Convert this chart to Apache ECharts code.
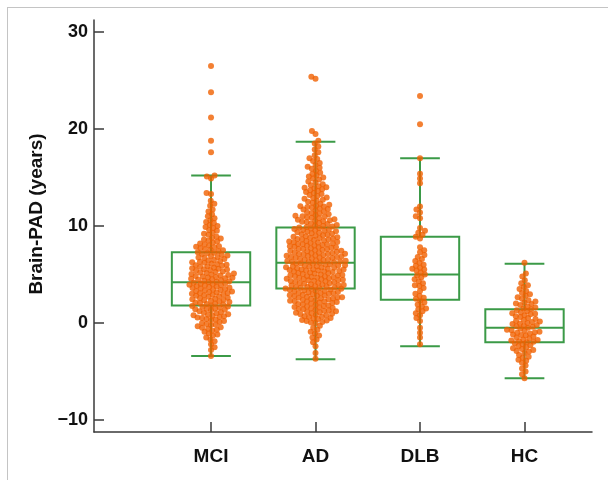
<!DOCTYPE html>
<html>
<head>
<meta charset="utf-8">
<script src="https://cdn.jsdelivr.net/npm/echarts@6/dist/echarts.min.js"></script>
<style>
  html, body { margin: 0; padding: 0; background: #fff; }
  #frame { position: absolute; left: 7px; top: 7px; width: 601px; height: 473px; border-top: 1px solid #c4c4c4; border-left: 1px solid #c4c4c4; }
  #main { position: absolute; left: 0; top: 0; width: 608px; height: 480px; }
</style>
</head>
<body>
<div id="frame"></div>
<div id="main"></div>
<script>
// groups and box statistics
const groups = ['MCI', 'AD', 'DLB', 'HC'];
const whiskerLow = [-3.4, -3.75, -2.4, -5.7];
const q1 = [1.8, 3.55, 2.4, -2.0];
const median = [4.2, 6.2, 5.0, -0.5];
const q3 = [7.3, 9.85, 8.9, 1.4];
const whiskerHigh = [15.2, 18.7, 17.0, 6.1];

const yTicks = [-10, 0, 10, 20, 30];

// individual subjects (Brain-PAD, years)
const mciValues = [26.5, 23.8, 21.2, 18.8, 17.6,
  15.2, 15.1, 14.9, 13.4, 13.3, 12.6, 12.3, 12.1, 11.7, 11.5, 11.2, 11.0,
  10.8, 10.6, 10.4, 10.3, 10.1, 10.0, 9.9, 9.8, 9.6, 9.5, 9.3, 9.2, 9.1,
  8.9, 8.8, 8.7, 8.5, 8.4, 8.3, 8.2, 8.1, 8.0, 8.6,
  7.9, 7.85, 7.8, 7.7, 7.6, 7.55, 7.5, 7.4, 7.3, 7.25, 7.2, 7.1, 7.0,
  6.95, 6.9, 6.8, 6.75, 6.7, 6.6, 6.5, 6.45, 6.4, 6.3, 6.25, 6.2, 6.1, 6.05, 6.0,
  5.95, 5.9, 5.85, 5.8, 5.7, 5.65, 5.6, 5.5, 5.45, 5.4, 5.3, 5.25, 5.2, 5.15, 5.1, 5.05, 5.0, 5.55,
  4.95, 4.9, 4.85, 4.8, 4.75, 4.7, 4.6, 4.55, 4.5, 4.45, 4.4, 4.35, 4.3, 4.25, 4.2, 4.15, 4.1, 4.05, 4.0, 4.65,
  3.95, 3.9, 3.85, 3.8, 3.75, 3.7, 3.6, 3.55, 3.5, 3.45, 3.4, 3.35, 3.3, 3.25, 3.2, 3.15, 3.1, 3.05, 3.0, 3.65,
  2.95, 2.9, 2.8, 2.75, 2.7, 2.6, 2.55, 2.5, 2.4, 2.35, 2.3, 2.2, 2.15, 2.1, 2.05, 2.0, 2.45, 2.85,
  1.95, 1.9, 1.8, 1.7, 1.65, 1.6, 1.5, 1.4, 1.35, 1.3, 1.2, 1.1, 1.05, 1.0, 1.45, 1.75,
  0.9, 0.8, 0.75, 0.7, 0.6, 0.5, 0.4, 0.35, 0.3, 0.2, 0.1, 0.0, 0.55, 0.85,
  -0.1, -0.2, -0.35, -0.5, -0.6, -0.7, -0.8, -0.9, -0.45, -0.15,
  -1.1, -1.3, -1.5, -1.7, -1.9, -1.2, -2.2, -2.5, -2.8, -3.4];

const adValues = [25.4, 25.2, 19.8, 19.5,
  18.8, 18.5, 18.2, 17.9, 17.6, 17.3, 17.0,
  16.9, 16.7, 16.5, 16.3, 16.1, 16.0,
  15.9, 15.7, 15.5, 15.4, 15.2, 15.1, 15.0,
  14.9, 14.8, 14.6, 14.5, 14.3, 14.2, 14.1, 14.0,
  13.95, 13.9, 13.8, 13.7, 13.6, 13.5, 13.4, 13.3, 13.2, 13.1,
  12.95, 12.9, 12.8, 12.7, 12.6, 12.5, 12.4, 12.3, 12.2, 12.1, 12.05, 12.0,
  11.95, 11.9, 11.8, 11.75, 11.7, 11.6, 11.5, 11.4, 11.35, 11.3, 11.2, 11.1, 11.05, 11.0,
  10.95, 10.9, 10.85, 10.8, 10.7, 10.65, 10.6, 10.5, 10.45, 10.4, 10.3, 10.25, 10.2, 10.1, 10.05, 10.0, 10.55,
  9.95, 9.9, 9.85, 9.8, 9.75, 9.7, 9.65, 9.6, 9.5, 9.45, 9.4, 9.35, 9.3, 9.25, 9.2, 9.15, 9.1, 9.05, 9.0, 9.55,
  8.95, 8.9, 8.85, 8.8, 8.75, 8.7, 8.65, 8.6, 8.55, 8.5, 8.45, 8.4, 8.35, 8.3, 8.25, 8.2, 8.15, 8.1, 8.05, 8.0, 8.62, 8.32, 8.12,
  7.95, 7.9, 7.85, 7.8, 7.75, 7.7, 7.65, 7.6, 7.55, 7.5, 7.45, 7.4, 7.35, 7.3, 7.25, 7.2, 7.15, 7.1, 7.05, 7.0, 7.62, 7.42, 7.22, 7.12, 7.82,
  6.95, 6.9, 6.85, 6.8, 6.75, 6.7, 6.65, 6.6, 6.55, 6.5, 6.45, 6.4, 6.35, 6.3, 6.25, 6.2, 6.15, 6.1, 6.05, 6.0, 6.92, 6.72, 6.52, 6.32, 6.12, 6.42, 6.82,
  5.95, 5.9, 5.85, 5.8, 5.75, 5.7, 5.65, 5.6, 5.55, 5.5, 5.45, 5.4, 5.35, 5.3, 5.25, 5.2, 5.15, 5.1, 5.05, 5.0, 5.92, 5.72, 5.52, 5.32, 5.12, 5.42, 5.82,
  4.95, 4.9, 4.85, 4.8, 4.75, 4.7, 4.65, 4.6, 4.55, 4.5, 4.45, 4.4, 4.35, 4.3, 4.25, 4.2, 4.15, 4.1, 4.05, 4.0, 4.92, 4.72, 4.52, 4.32, 4.12, 4.42, 4.82,
  3.95, 3.9, 3.85, 3.8, 3.75, 3.7, 3.65, 3.6, 3.55, 3.5, 3.45, 3.4, 3.35, 3.3, 3.25, 3.2, 3.15, 3.1, 3.05, 3.0, 3.92, 3.72, 3.52, 3.32, 3.12, 3.62,
  2.95, 2.9, 2.85, 2.8, 2.75, 2.7, 2.65, 2.6, 2.55, 2.5, 2.45, 2.4, 2.35, 2.3, 2.25, 2.2, 2.15, 2.1, 2.05, 2.0, 2.82, 2.52, 2.22, 2.62,
  1.95, 1.9, 1.85, 1.8, 1.75, 1.7, 1.65, 1.6, 1.5, 1.45, 1.4, 1.35, 1.3, 1.25, 1.2, 1.1, 1.05, 1.0, 1.55, 1.15,
  0.95, 0.9, 0.85, 0.8, 0.7, 0.65, 0.6, 0.5, 0.45, 0.4, 0.3, 0.25, 0.2, 0.1, 0.05, 0.0,
  -0.3, -0.5, -0.7, -0.9, -1.1, -1.3, -1.5, -1.7, -2.0, -2.4, -3.1, -3.7];

const dlbValues = [23.4, 20.5, 17.0, 15.4, 14.9, 14.4, 12.0, 11.7, 11.4, 11.0, 10.8,
  9.8, 9.5, 9.3, 9.1, 8.9, 8.7, 7.8, 7.5, 7.3, 7.0, 6.8, 6.6, 6.4, 6.2, 6.0,
  5.9, 5.7, 5.6, 5.5, 5.4, 5.2, 5.0, 4.9, 4.7, 4.5, 4.3, 4.1, 3.9, 3.8, 3.6, 3.3,
  3.0, 2.8, 2.6, 2.5, 2.3, 2.1, 1.9, 1.7, 1.5, 1.4, 1.2, 1.0, 0.8, 0.5, 0.2,
  -0.5, -1.0, -1.5, -2.2];

const hcValues = [6.2, 5.1, 4.8, 4.4, 4.1, 3.9, 3.7, 3.5, 3.3, 3.1,
  2.95, 2.8, 2.65, 2.5, 2.35, 2.2, 2.1, 2.0,
  1.95, 1.85, 1.7, 1.6, 1.5, 1.4, 1.3, 1.2, 1.1, 1.0,
  0.95, 0.9, 0.8, 0.7, 0.6, 0.5, 0.4, 0.3, 0.2, 0.15, 0.1, 0.0,
  -0.05, -0.1, -0.2, -0.3, -0.35, -0.4, -0.5, -0.6, -0.7, -0.75, -0.8, -0.9, -0.95,
  -1.0, -1.1, -1.2, -1.25, -1.3, -1.4, -1.5, -1.6, -1.7, -1.75, -1.8, -1.9, -1.95,
  -2.0, -2.1, -2.2, -2.3, -2.4, -2.5, -2.6, -2.7, -2.8, -2.9, -2.95,
  -3.1, -3.3, -3.5, -3.6, -3.8, -3.9, -4.1, -4.4, -4.7, -5.0, -5.3, -5.7];

const allValues = [mciValues, adValues, dlbValues, hcValues];

// plot geometry
const gridLeft = 94, gridTop = 20, gridW = 498, gridH = 412;
const xMin = -0.12, xMax = 4.646, yMin = -11.25, yMax = 31.25;
const pxPerX = gridW / (xMax - xMin);
const pxPerY = gridH / (yMax - yMin);
const dotSize = 6;
const packDist = 4.6; // dots overlap a little in the original

// beeswarm: place each point as close to the centre line as possible without overlap
function swarm(values, d) {
  const pts = values.map((v, i) => ({ y: v * pxPerY, i: i })).sort((a, b) => a.y - b.y);
  const placed = [];
  const offs = new Array(values.length).fill(0);
  pts.forEach((p, k) => {
    const near = placed.filter(q => Math.abs(q.y - p.y) < d);
    const cands = [0];
    near.forEach(q => {
      const dx = Math.sqrt(d * d - (q.y - p.y) * (q.y - p.y));
      cands.push(q.x + dx, q.x - dx);
    });
    const sign = k % 2 ? 1 : -1;
    cands.sort((a, b) => (Math.abs(a) - Math.abs(b)) || (sign * (a - b)));
    p.x = 0;
    for (const c of cands) {
      if (near.every(q => (q.x - c) * (q.x - c) + (q.y - p.y) * (q.y - p.y) >= d * d - 0.01)) { p.x = c; break; }
    }
    placed.push(p);
    offs[p.i] = p.x;
  });
  return offs;
}

const pointData = [];
allValues.forEach((vals, gi) => {
  const offs = swarm(vals, packDist);
  vals.forEach((v, j) => pointData.push([gi + 1 + offs[j] / pxPerX, v]));
});

const boxData = groups.map((g, i) => [i + 1, whiskerLow[i], q1[i], median[i], q3[i], whiskerHigh[i]]);

const green = '#3b9a47';
const orange = '#f06000';
const axisColor = '#3a3a3a';
const fontFamily = 'Liberation Sans, Arial, sans-serif';

let chartDom = document.getElementById('main');
let myChart = echarts.init(chartDom);

const option = {
  animation: false,
  backgroundColor: 'transparent',
  grid: { left: gridLeft, top: gridTop, width: gridW, height: gridH },
  xAxis: {
    type: 'value',
    min: xMin,
    max: xMax,
    splitLine: { show: false },
    axisLine: { show: true, onZero: false, lineStyle: { color: axisColor, width: 1.5 } },
    axisTick: { show: true, inside: true, length: 10, customValues: [1, 2, 3, 4], lineStyle: { color: axisColor, width: 1.5 } },
    axisLabel: {
      customValues: [1, 2, 3, 4],
      formatter: v => groups[Math.round(v) - 1],
      margin: 15,
      fontSize: 19,
      fontWeight: 'bold',
      color: '#111',
      fontFamily: fontFamily
    }
  },
  yAxis: {
    type: 'value',
    min: yMin,
    max: yMax,
    name: 'Brain-PAD (years)',
    nameLocation: 'middle',
    nameGap: 46,
    nameTextStyle: { fontSize: 19, fontWeight: 'bold', color: '#111', fontFamily: fontFamily, padding: [0, 0, 0, 24] },
    splitLine: { show: false },
    axisLine: { show: true, onZero: false, lineStyle: { color: axisColor, width: 1.5 } },
    axisTick: { show: true, inside: true, length: 10, customValues: yTicks, lineStyle: { color: axisColor, width: 1.5 } },
    axisLabel: {
      customValues: yTicks,
      formatter: v => (v < 0 ? '\u2212' + (-v) : String(v)),
      margin: 6,
      fontSize: 18,
      fontWeight: 'bold',
      color: '#111',
      fontFamily: fontFamily
    }
  },
  series: [
    {
      type: 'custom',
      z: 2,
      data: boxData,
      encode: { x: 0, y: [1, 2, 3, 4, 5] },
      renderItem: function (params, api) {
        const c = api.value(0);
        const half = 0.375, cap = 0.19;
        const pLow = api.coord([c, api.value(1)]);
        const pQ1 = api.coord([c, api.value(2)]);
        const pMed = api.coord([c, api.value(3)]);
        const pQ3 = api.coord([c, api.value(4)]);
        const pHigh = api.coord([c, api.value(5)]);
        const xl = api.coord([c - half, 0])[0];
        const xr = api.coord([c + half, 0])[0];
        const cl = api.coord([c - cap, 0])[0];
        const cr = api.coord([c + cap, 0])[0];
        const style = { stroke: green, lineWidth: 2, fill: null };
        return {
          type: 'group',
          children: [
            { type: 'line', shape: { x1: pLow[0], y1: pLow[1], x2: pQ1[0], y2: pQ1[1] }, style: style },
            { type: 'line', shape: { x1: pQ3[0], y1: pQ3[1], x2: pHigh[0], y2: pHigh[1] }, style: style },
            { type: 'line', shape: { x1: cl, y1: pLow[1], x2: cr, y2: pLow[1] }, style: style },
            { type: 'line', shape: { x1: cl, y1: pHigh[1], x2: cr, y2: pHigh[1] }, style: style },
            { type: 'rect', shape: { x: xl, y: pQ3[1], width: xr - xl, height: pQ1[1] - pQ3[1] }, style: style },
            { type: 'line', shape: { x1: xl, y1: pMed[1], x2: xr, y2: pMed[1] }, style: style }
          ]
        };
      }
    },
    {
      type: 'scatter',
      z: 3,
      symbol: 'circle',
      symbolSize: dotSize,
      itemStyle: { color: orange },
      data: pointData
    }
  ]
};

myChart.setOption(option);
</script>
</body>
</html>
